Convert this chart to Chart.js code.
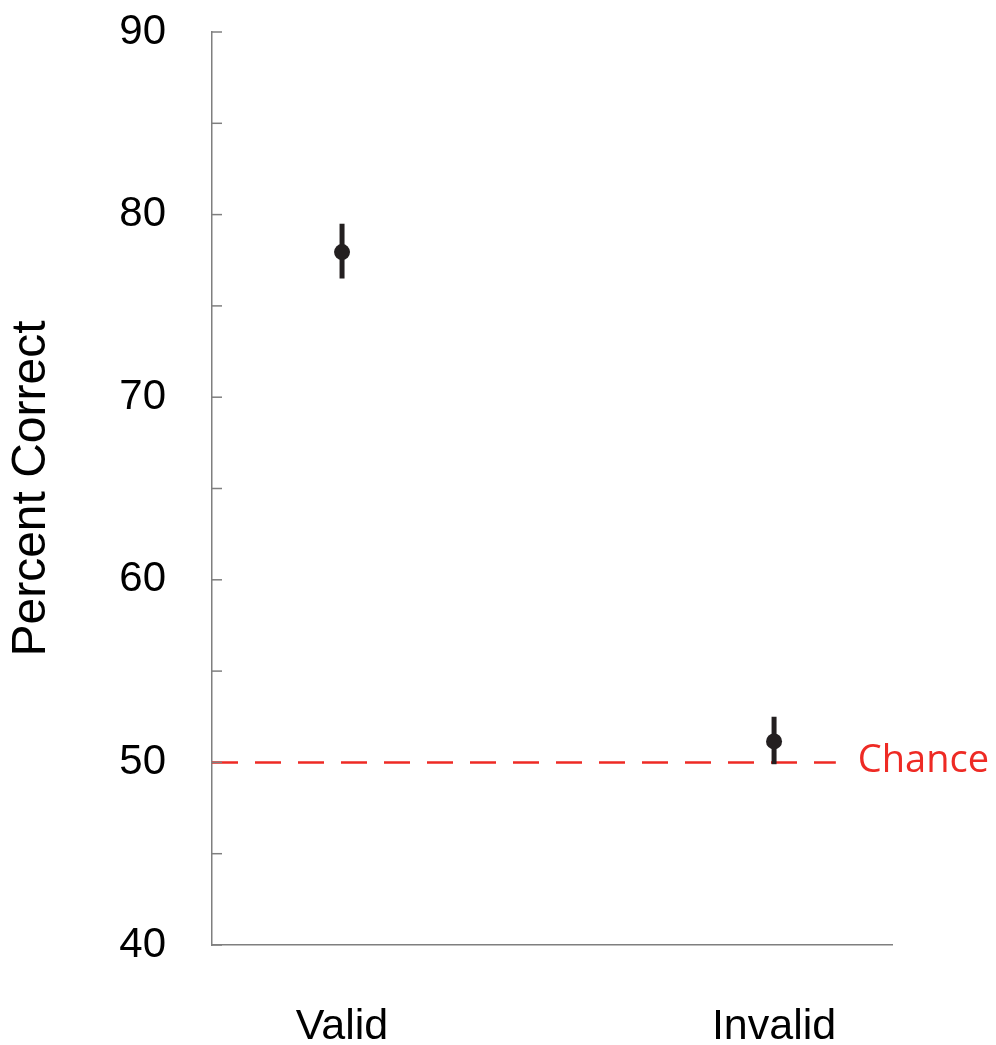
<!DOCTYPE html>
<html>
<head>
<meta charset="utf-8">
<script src="https://cdn.jsdelivr.net/npm/chart.js@4.4.1/dist/chart.umd.min.js"></script>
<style>
  html, body { margin: 0; padding: 0; background: #fff; }
  #wrap { width: 996px; height: 1045px; position: relative; }
</style>
</head>
<body>
<div id="wrap"><canvas id="Percent_Chart"></canvas></div>
<script>
// ข้อมูลของกราฟ
const categories = ['Valid', 'Invalid'];
const means = [77.95, 51.15];
const errLow = [76.5, 49.9];
const errHigh = [79.5, 52.5];
const chanceLevel = 50;
const chanceLabel = 'Chance';
const yTicks = [40, 45, 50, 55, 60, 65, 70, 75, 80, 85, 90];

const ink = '#231f20';
const axisGray = '#7f7f7f';
const red = '#ee2a24';

// แกน x แบบตัวเลข: หมวดหมู่อยู่ที่ 0 และ 1
const xMin = -0.301;
const xMax = 1.273;
const chanceEnd = 1.143;

const datasets = [];
datasets.push({
    label: 'mean',
    data: means.map((m, i) => ({ x: i, y: m })),
    showLine: false,
    pointRadius: 8,
    pointBackgroundColor: ink,
    pointBorderWidth: 0
});
categories.forEach((c, i) => {
    datasets.push({
        label: c + ' error',
        data: [{ x: i, y: errLow[i] }, { x: i, y: errHigh[i] }],
        showLine: true,
        borderColor: ink,
        borderWidth: 5,
        borderCapStyle: 'butt',
        pointRadius: 0
    });
});
datasets.push({
    label: 'chance',
    data: [{ x: xMin, y: chanceLevel }, { x: chanceEnd, y: chanceLevel }],
    showLine: true,
    borderColor: red,
    borderWidth: 2.5,
    borderDash: [26, 17],
    borderCapStyle: 'butt',
    pointRadius: 0
});

// วาดขีดย่อยด้านในแกน y และข้อความ Chance
const extras = {
    id: 'extras',
    afterDraw(chart) {
        const ctx = chart.ctx;
        const y = chart.scales.y;
        const x = chart.scales.x;
        const left = chart.chartArea.left;
        ctx.save();
        ctx.strokeStyle = axisGray;
        ctx.lineWidth = 1.5;
        yTicks.forEach(v => {
            const py = y.getPixelForValue(v);
            ctx.beginPath();
            ctx.moveTo(left, py);
            ctx.lineTo(left + 10, py);
            ctx.stroke();
        });
        ctx.fillStyle = red;
        ctx.font = '38px "Open Sans"';
        ctx.textAlign = 'left';
        ctx.textBaseline = 'middle';
        ctx.fillText(chanceLabel, x.getPixelForValue(chanceEnd) + 22, y.getPixelForValue(chanceLevel) - 1);
        ctx.restore();
    }
};

const ctx = document.getElementById('Percent_Chart').getContext('2d');
const PercentChartInstance = new Chart(ctx, {
    type: 'scatter',
    data: { datasets: datasets },
    plugins: [extras],
    options: {
        responsive: true,
        maintainAspectRatio: false,
        animation: false,
        layout: {
            padding: { left: 0, right: 104, top: 32, bottom: 0 }
        },
        plugins: {
            legend: { display: false },
            tooltip: { enabled: false }
        },
        scales: {
            x: {
                type: 'linear',
                min: xMin,
                max: xMax,
                afterBuildTicks: scale => {
                    scale.ticks = categories.map((c, i) => ({ value: i }));
                },
                afterFit: scale => {
                    scale.height = 100;
                    scale.paddingLeft = 0;
                    scale.paddingRight = 0;
                },
                grid: { display: false, drawTicks: false },
                border: { display: true, color: axisGray, width: 1.5 },
                ticks: {
                    autoSkip: false,
                    maxRotation: 0,
                    padding: 56,
                    color: '#000',
                    font: { family: '"Liberation Sans", Arial, sans-serif', size: 43 },
                    callback: v => categories[v]
                }
            },
            y: {
                min: 40,
                max: 90,
                afterBuildTicks: scale => {
                    scale.ticks = yTicks.map(v => ({ value: v }));
                },
                afterFit: scale => {
                    scale.width = 212;
                    scale.paddingTop = 0;
                    scale.paddingBottom = 0;
                },
                grid: { display: false, drawTicks: false },
                border: { display: true, color: axisGray, width: 1.5 },
                ticks: {
                    padding: 46,
                    color: '#000',
                    font: { family: '"Liberation Sans", Arial, sans-serif', size: 42 },
                    callback: v => (v % 10 === 0 ? v : '')
                },
                title: {
                    display: true,
                    text: 'Percent Correct',
                    color: '#000',
                    padding: { top: 3, bottom: 0 },
                    font: { family: '"Liberation Sans", Arial, sans-serif', size: 48 }
                }
            }
        }
    }
});
</script>
</body>
</html>
